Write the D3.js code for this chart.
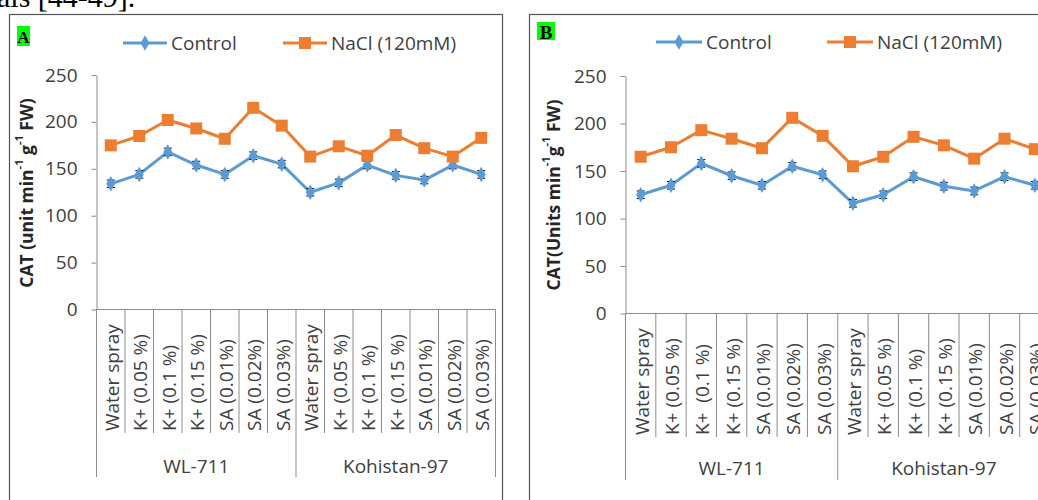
<!DOCTYPE html>
<html>
<head>
<meta charset="utf-8">
<script src="https://cdn.jsdelivr.net/npm/d3@7"></script>
<style>
  body { margin: 0; background: #fff; }
  svg { display: block; }
  text { font-family: "Open Sans", sans-serif; fill: #404040; }
</style>
</head>
<body>
<svg id="chart" width="1038" height="500"></svg>
<script>
// Treatments (x-axis, inner level) and cultivars (outer level)
const categoriesA = ["Water spray", "K+ (0.05 %)", "K+ (0.1 %)", "K+ (0.15 %)", "SA (0.01%)", "SA (0.02%)", "SA (0.03%)",
                     "Water spray", "K+ (0.05 %)", "K+ (0.1 %)", "K+ (0.15 %)", "SA (0.01%)", "SA (0.02%)", "SA (0.03%)"];
const categoriesB = ["Water spray", "K+ (0.05 %)", "K+\u00a0 (0.1 %)", "K+ (0.15 %)", "SA (0.01%)", "SA (0.02%)", "SA (0.03%)",
                     "Water spray", "K+ (0.05 %)", "K+ (0.1 %)", "K+ (0.15 %)", "SA (0.01%)", "SA (0.02%)", "SA (0.03%)"];
const groups = ["WL-711", "Kohistan-97"];
const yTicks = [0, 50, 100, 150, 200, 250];
const seriesNames = ["Control", "NaCl (120mM)"];

// CAT activity, panel A
const controlA = [134, 144, 168, 154, 144, 164, 155, 125, 135, 154, 143, 138, 154, 144];
const naclA    = [175, 185, 202, 193, 182, 215, 196, 163, 174, 164, 186, 172, 163, 183];
const controlErrA = [4, 4, 4, 4, 4, 4, 4, 4, 4, 4, 4, 4, 4, 4];

// CAT activity, panel B
const controlB = [125, 135, 158, 145, 135, 155, 146, 116, 125, 144, 134, 129, 144, 135];
const naclB    = [165, 175, 193, 184, 174, 206, 187, 155, 165, 186, 177, 163, 184, 173];
const controlErrB = [4, 4, 4, 4, 4, 4, 4, 4, 4, 4, 4, 4, 4, 4];

const BLUE = "#5b9bd5", ORANGE = "#ed7d31", AXIS = "#8c8c8c";
const svg = d3.select("#chart");

// Fragment of the running text above the figures
svg.append("text").attr("x", -3).attr("y", 7)
  .style("font-family", "'Liberation Serif', serif").style("font-size", "30px").style("fill", "#000")
  .text("als [44-49].");

function drawPanel(cfg) {
  const g = svg.append("g");

  // outer frame
  g.append("rect").attr("x", cfg.frameX + 0.5).attr("y", 14.5)
    .attr("width", cfg.frameW).attr("height", 520)
    .attr("fill", "none").attr("stroke", "#555").attr("stroke-width", 1.2);

  // panel letter
  g.append("rect").attr("x", cfg.tag.x).attr("y", cfg.tag.y).attr("width", cfg.tag.w).attr("height", cfg.tag.h)
    .attr("fill", "#00ff00");
  g.append("text").attr("x", cfg.tag.x + cfg.tag.w / 2).attr("y", cfg.tag.y + cfg.tag.h / 2 + 1)
    .attr("text-anchor", "middle").attr("dominant-baseline", "central")
    .style("font-family", "'Liberation Serif', serif").style("font-weight", "bold")
    .style("font-size", cfg.tag.fs + "px").style("fill", "#000").text(cfg.letter);

  const x = d3.scaleBand().domain(d3.range(cfg.cats.length)).range([cfg.left, cfg.right]);
  const y = d3.scaleLinear().domain([0, 250]).range([cfg.bottom, cfg.top]);

  // y axis
  const yAxis = g.append("g").attr("transform", `translate(${cfg.left},0)`)
    .call(d3.axisLeft(y).tickValues(yTicks).tickSize(5).tickSizeOuter(0).tickPadding(14));
  yAxis.select(".domain").attr("stroke", AXIS);
  yAxis.selectAll(".tick line").attr("stroke", AXIS);
  yAxis.selectAll(".tick text").style("font-size", "19px").style("font-family", "'Open Sans', sans-serif").attr("fill", "#404040");

  // x axis baseline and category separators
  const bw = x.bandwidth();
  g.append("line").attr("x1", cfg.left).attr("x2", cfg.right)
    .attr("y1", y(0)).attr("y2", y(0)).attr("stroke", AXIS);
  const bounds = d3.range(cfg.cats.length + 1).map(i => cfg.left + i * bw);
  g.selectAll(".sep").data(bounds).join("line")
    .attr("x1", d => d).attr("x2", d => d)
    .attr("y1", y(0))
    .attr("y2", (d, i) => (i % 7 === 0) ? cfg.groupLineEnd : cfg.catLineEnd)
    .attr("stroke", AXIS);

  // category labels (rotated)
  g.selectAll(".cat").data(cfg.cats).join("text")
    .attr("transform", (d, i) => `translate(${x(i) + bw / 2 + 1},${cfg.catLabelBase}) rotate(-90)`)
    .attr("dominant-baseline", "central")
    .style("font-size", "19px").text(d => d);

  // cultivar labels
  g.selectAll(".grp").data(groups).join("text")
    .attr("x", (d, i) => (x(i * 7) + x(i * 7 + 6) + bw) / 2)
    .attr("y", cfg.groupLabelY)
    .attr("text-anchor", "middle").attr("dominant-baseline", "central")
    .style("font-size", "19px").text(d => d);

  // y axis title
  const title = g.append("text")
    .attr("transform", `translate(${cfg.titleX},${cfg.titleY}) rotate(-90)`)
    .attr("text-anchor", "middle").attr("dominant-baseline", "central")
    .style("font-weight", "bold").style("font-size", "17.5px").style("fill", "#262626");
  cfg.titleParts.forEach(p => {
    const t = title.append("tspan").text(p.t);
    if (p.sup) t.attr("baseline-shift", "super").style("font-size", "11px");
  });

  // series lines
  const line = d3.line().x((d, i) => x(i) + bw / 2).y(d => y(d));
  g.append("path").datum(cfg.control).attr("d", line)
    .attr("fill", "none").attr("stroke", BLUE).attr("stroke-width", 3).attr("stroke-linejoin", "round");
  g.append("path").datum(cfg.nacl).attr("d", line)
    .attr("fill", "none").attr("stroke", ORANGE).attr("stroke-width", 3).attr("stroke-linejoin", "round");

  // control error bars
  const eb = g.selectAll(".err").data(cfg.control).join("g");
  eb.append("line").attr("x1", (d, i) => x(i) + bw / 2).attr("x2", (d, i) => x(i) + bw / 2)
    .attr("y1", (d, i) => y(d + cfg.err[i])).attr("y2", (d, i) => y(d - cfg.err[i]))
    .attr("stroke", "#000").attr("stroke-width", 1);
  [1, -1].forEach(s => {
    eb.append("line").attr("x1", (d, i) => x(i) + bw / 2 - 4).attr("x2", (d, i) => x(i) + bw / 2 + 4)
      .attr("y1", (d, i) => y(d + s * cfg.err[i])).attr("y2", (d, i) => y(d + s * cfg.err[i]))
      .attr("stroke", "#000").attr("stroke-width", 1);
  });

  // markers
  const diamond = d3.symbol().type(d3.symbolDiamond).size(70);
  g.selectAll(".ctl").data(cfg.control).join("path")
    .attr("transform", (d, i) => `translate(${x(i) + bw / 2},${y(d)})`)
    .attr("d", diamond).attr("fill", BLUE);
  g.selectAll(".nacl").data(cfg.nacl).join("rect")
    .attr("x", (d, i) => x(i) + bw / 2 - 6).attr("y", d => y(d) - 6)
    .attr("width", 12).attr("height", 12).attr("fill", ORANGE);

  // legend
  const lg = g.append("g");
  const items = [
    { name: seriesNames[0], color: BLUE, x0: cfg.legend[0], mark: "diamond" },
    { name: seriesNames[1], color: ORANGE, x0: cfg.legend[1], mark: "square" }
  ];
  items.forEach(it => {
    lg.append("line").attr("x1", it.x0).attr("x2", it.x0 + cfg.legendLen)
      .attr("y1", cfg.legendY).attr("y2", cfg.legendY).attr("stroke", it.color).attr("stroke-width", 3);
    const cx = it.x0 + cfg.legendLen / 2;
    if (it.mark === "diamond") {
      lg.append("path").attr("transform", `translate(${cx},${cfg.legendY})`).attr("d", diamond).attr("fill", it.color);
    } else {
      lg.append("rect").attr("x", cx - 6).attr("y", cfg.legendY - 6).attr("width", 12).attr("height", 12).attr("fill", it.color);
    }
    lg.append("text").attr("x", it.x0 + cfg.legendLen + 4).attr("y", cfg.legendY)
      .attr("dominant-baseline", "central").style("font-size", "19px").text(it.name);
  });
}

drawPanel({
  letter: "A", frameX: 9, frameW: 493,
  tag: { x: 17, y: 26, w: 13, h: 20, fs: 17 },
  cats: categoriesA, control: controlA, nacl: naclA, err: controlErrA,
  left: 96.5, right: 495.5, top: 75, bottom: 309.5,
  catLineEnd: 433, groupLineEnd: 477, catLabelBase: 431, groupLabelY: 466,
  titleX: 26, titleY: 193,
  titleParts: [{ t: "CAT (unit min" }, { t: "-1", sup: true }, { t: " g" }, { t: "-1", sup: true }, { t: " FW)" }],
  legend: [123, 283], legendLen: 44, legendY: 43
});

drawPanel({
  letter: "B", frameX: 529, frameW: 600,
  tag: { x: 537, y: 22, w: 18, h: 18, fs: 19 },
  cats: categoriesB, control: controlB, nacl: naclB, err: controlErrB,
  left: 625.5, right: 1050, top: 76, bottom: 313.5,
  catLineEnd: 437, groupLineEnd: 480, catLabelBase: 435, groupLabelY: 468,
  titleX: 553, titleY: 195,
  titleParts: [{ t: "CAT(Units min" }, { t: "-1", sup: true }, { t: "g" }, { t: "-1", sup: true }, { t: " FW)" }],
  legend: [656, 827], legendLen: 46, legendY: 42
});
</script>
</body>
</html>
